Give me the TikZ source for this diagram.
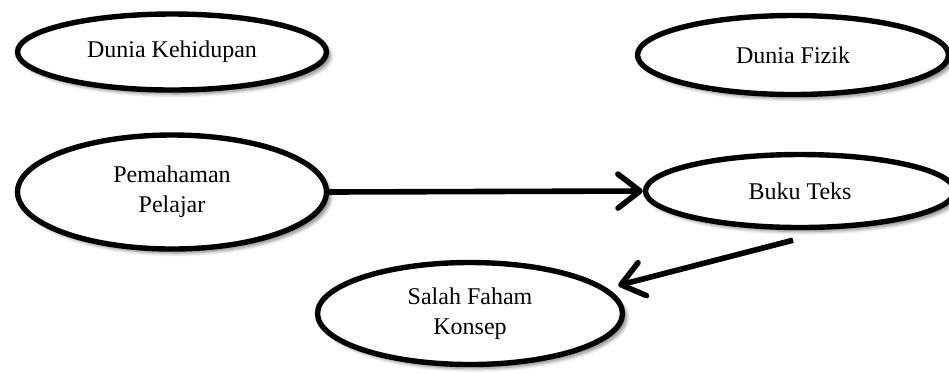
\documentclass[tikz,border=0pt]{standalone}
\usepackage{fontspec}
\setmainfont{Liberation Serif}
\usetikzlibrary{arrows.meta,shapes.geometric,shadows.blur}

\begin{document}
\begin{tikzpicture}[x=0.5pt,y=-0.5pt,
  oval/.style={ellipse,draw,line width=2.7pt,fill=white,inner sep=0pt,align=center,
    font=\fontsize{12}{15}\selectfont,
    blur shadow={shadow xshift=2pt,shadow yshift=-2pt,shadow blur steps=6,shadow opacity=50}},
  link/.style={line width=2.8pt,-{Straight Barb[length=11pt,width=17pt,round]}}]
\useasboundingbox (0,0) rectangle (949,372);
% ovals
\node[oval,minimum width=154.5pt,minimum height=38pt] (kehidupan) at (172,52) {Dunia Kehidupan};
\node[oval,minimum width=155.5pt,minimum height=39.5pt] (fizik) at (793,55) {Dunia Fizik};
\node[oval,minimum width=154.5pt,minimum height=57pt] (pemahaman) at (172,192) {Pemahaman\\Pelajar};
\node[oval,minimum width=154.5pt,minimum height=36.5pt] (buku) at (800,191) {Buku Teks};
\node[oval,minimum width=152.5pt,minimum height=51pt] (salah) at (470,313.5) {Salah Faham\\Konsep};
% arrows
\draw[link] (pemahaman.east) -- (buku.west);
\draw[link] ([xshift=-3.5pt,yshift=-5pt]buku.south) -- ([xshift=8pt]salah.12);
\end{tikzpicture}
\end{document}
